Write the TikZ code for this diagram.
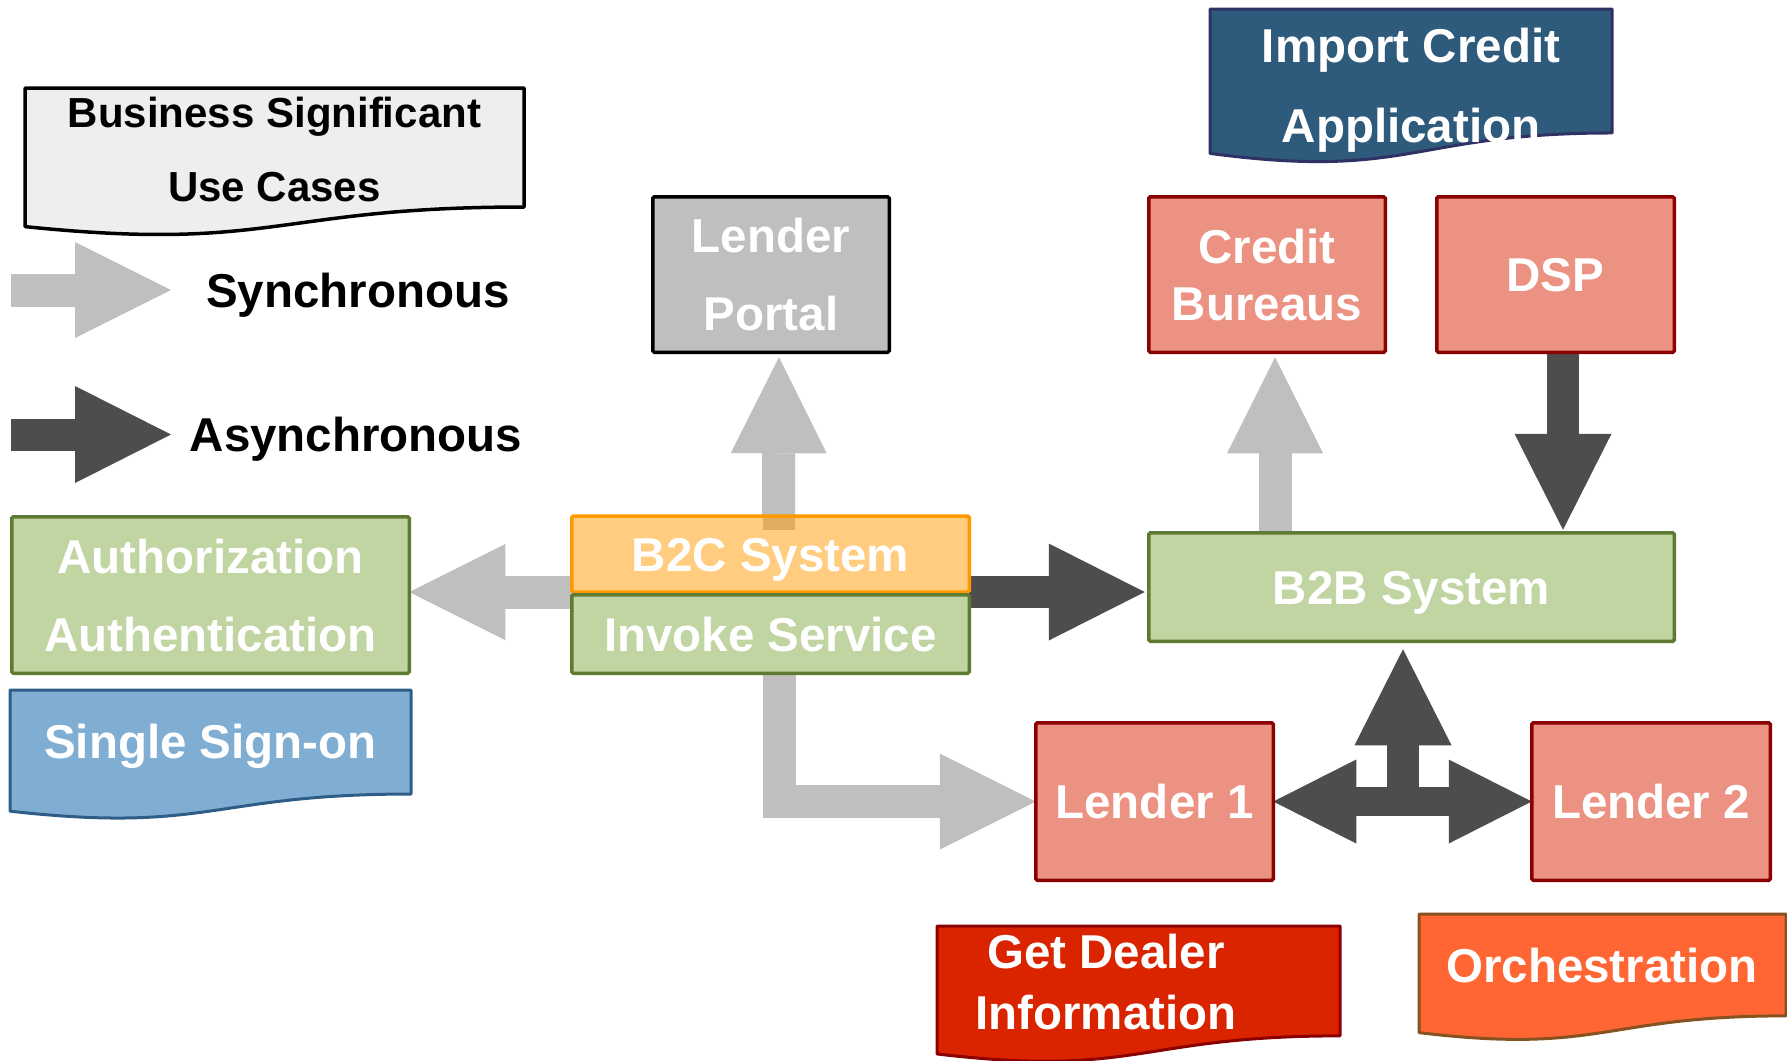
\documentclass[tikz,border=0pt]{standalone}
\usepackage{fontspec}
\setmainfont{Liberation Sans}
\usetikzlibrary{arrows.meta,backgrounds,calc}

% palette
\definecolor{syncgray}{HTML}{BFBFBF}
\definecolor{asyncgray}{HTML}{4D4D4D}
\definecolor{paperfill}{HTML}{EEEEEE}
\definecolor{portalfill}{HTML}{BFBFBF}
\definecolor{peachfill}{HTML}{FFCC80}
\definecolor{orangeedge}{HTML}{FF9900}
\definecolor{greenfill}{HTML}{C1D5A3}
\definecolor{greenedge}{HTML}{5E7A33}
\definecolor{salmonfill}{HTML}{EC9282}
\definecolor{darkred}{HTML}{8B0000}
\definecolor{skyfill}{HTML}{80AED3}
\definecolor{skyedge}{HTML}{2E5E88}
\definecolor{navyfill}{HTML}{2E5B7C}
\definecolor{navyedge}{HTML}{2F3164}
\definecolor{redfill}{HTML}{DA2400}
\definecolor{orangefill}{HTML}{FF6633}
\definecolor{brownedge}{HTML}{86521F}
\definecolor{overlaptan}{HTML}{E0AD60}

% flowchart "document" outline: style, left, top, right, height
\newcommand\docpath[5]{%
  \draw[#1] (#2,#3) -- (#4,#3) -- (#4,{#3+0.802*#5})
    .. controls ({(#2+#4)/2},{#3+0.802*#5}) and ({(#2+#4)/2},{#3+1.107*#5}) ..
    (#2,{#3+0.934*#5}) -- cycle;}

\tikzset{
  box/.style={rectangle, draw, line width=3.5pt, rounded corners=1.5pt,
    inner sep=0pt, outer sep=0pt, text=white, align=center},
  oneline/.style={font=\bfseries\fontsize{47.5}{57}\selectfont,
    text height=34pt, text depth=0pt},
  % #1 = line distance, #2 = cap height plus line distance
  twolines/.style 2 args={font=\bfseries\fontsize{47.5}{#1}\selectfont,
    text height=#2pt, text depth=0pt},
  greybox/.style={box, fill=portalfill, draw=black},
  redbox/.style={box, fill=salmonfill, draw=darkred},
  greenbox/.style={box, fill=greenfill, draw=greenedge},
  peachbox/.style={box, fill=peachfill, draw=orangeedge},
  doctext/.style={inner sep=0pt, outer sep=0pt, text=white, align=center},
  paperdoc/.style={fill=paperfill, draw=black, line width=3.5pt, line join=round},
  skydoc/.style={fill=skyfill, draw=skyedge, line width=3pt, line join=round},
  navydoc/.style={fill=navyfill, draw=navyedge, line width=3pt, line join=round},
  reddoc/.style={fill=redfill, draw=darkred, line width=3pt, line join=round},
  orangedoc/.style={fill=orangefill, draw=brownedge, line width=3pt, line join=round},
  syncarrow/.style={draw=syncgray, line width=33pt,
    -{Triangle[length=96pt,width=96pt,line width=0pt]}},
  asyncarrow/.style={draw=asyncgray, line width=32pt,
    -{Triangle[length=96pt,width=97pt,line width=0pt]}},
  bothways/.style={draw=asyncgray, line width=29pt,
    {Triangle[length=83pt,width=84pt,line width=0pt]}-{Triangle[length=83pt,width=84pt,line width=0pt]}},
}

\begin{document}
\begin{tikzpicture}[x=1pt,y=-1pt]
\useasboundingbox (0,0) rectangle (1787,1060);
\clip (0,0) rectangle (1787,1060);

% legend
\docpath{paperdoc}{25}{88}{524}{148.4}
\node[doctext, text=black, font=\bfseries\fontsize{42}{74}\selectfont,
      text height=104pt, text depth=0pt] (usecases) at (274.5,149)
      {Business Significant\\Use Cases};
\coordinate (syncstart) at (11,290);
\coordinate (syncend) at (171,290);
\coordinate (asyncstart) at (11,434.5);
\coordinate (asyncend) at (171,434.5);
\node[doctext, text=black, oneline] (synclabel) at (358,290) {Synchronous};
\node[doctext, text=black, oneline] (asynclabel) at (356,434.5) {Asynchronous};

% systems
\node[greybox, minimum width=236.5pt, minimum height=155.5pt, twolines={78.5}{112.5}]
  (portal) at (771,274.5) {Lender\\Portal};
\node[redbox, minimum width=236.5pt, minimum height=155.5pt, twolines={57}{91}]
  (bureaus) at (1267,274.5) {Credit\\Bureaus};
\node[redbox, minimum width=237.5pt, minimum height=155.5pt, oneline]
  (dsp) at (1555.5,274.5) {DSP};
\node[peachbox, minimum width=397.5pt, minimum height=76pt, oneline]
  (b2c) at (770.5,554) {B2C System};
\node[greenbox, minimum width=397.5pt, minimum height=78.5pt, oneline]
  (invoke) at (770.5,634) {Invoke Service};
\node[greenbox, minimum width=397.5pt, minimum height=156.5pt, twolines={78}{112}]
  (auth) at (210.5,595) {Authorization\\Authentication};
\node[greenbox, minimum width=525.5pt, minimum height=108.5pt, oneline]
  (b2b) at (1411.5,587) {B2B System};
\node[redbox, minimum width=237.5pt, minimum height=157.5pt, oneline]
  (lender1) at (1154.5,801.5) {Lender 1};
\node[redbox, minimum width=238.5pt, minimum height=157.5pt, oneline]
  (lender2) at (1651,801.5) {Lender 2};

% use case banners
\docpath{skydoc}{10}{690}{411}{129.7}
\node[doctext, oneline] (sso) at (210.5,741.5) {Single Sign-on};
\docpath{navydoc}{1210}{9}{1612}{154.6}
\node[doctext, twolines={80}{114}] (importapp) at (1411,85) {Import Credit\\Application};
\docpath{reddoc}{937}{926}{1340}{137}
\node[doctext, twolines={61}{95}] (dealer) at (1106,982) {Get Dealer\\Information};
\docpath{orangedoc}{1419}{914}{1786}{127}
\node[doctext, oneline] (orchestration) at (1602,965.5) {Orchestration};

% connectors, kept behind the boxes
\begin{pgfonlayer}{background}
  \fill[white] (0,0) rectangle (1787,1060);
  \draw[syncarrow] (syncstart) -- (syncend);
  \draw[asyncarrow] (asyncstart) -- (asyncend);
  \draw[syncarrow] ($(b2c.north)+(8,15)$) -- ($(portal.south)+(8,5)$);
  \draw[syncarrow] (b2c.south west) -- (b2c.south west -| auth.east);
  \draw[asyncarrow] (b2c.south east) -- ($(b2c.south east -| b2b.west)+(-4,0)$);
  \draw[syncarrow] ($(bureaus.south |- b2b.north)+(8,0)$) -- ($(bureaus.south)+(8,5)$);
  \draw[asyncarrow] ($(dsp.south)+(7.5,0)$) -- ($(dsp.south |- b2b.north)+(7.5,-3)$);
  \draw[syncarrow, line join=miter] ($(invoke.south)+(9,0)$) |- (lender1.west);
  \draw[bothways] (lender1.east) -- (lender2.west);
  \draw[asyncarrow] ($(lender1.east -| b2b.south)+(-8.5,0)$) -- ($(b2b.south)+(-8.5,8)$);
\end{pgfonlayer}

% shaft of the portal connector seen through the B2C box
\fill[overlaptan] ($(b2c.north)+(-8,1.75)$) rectangle ($(b2c.north)+(24,14)$);
\end{tikzpicture}
\end{document}
